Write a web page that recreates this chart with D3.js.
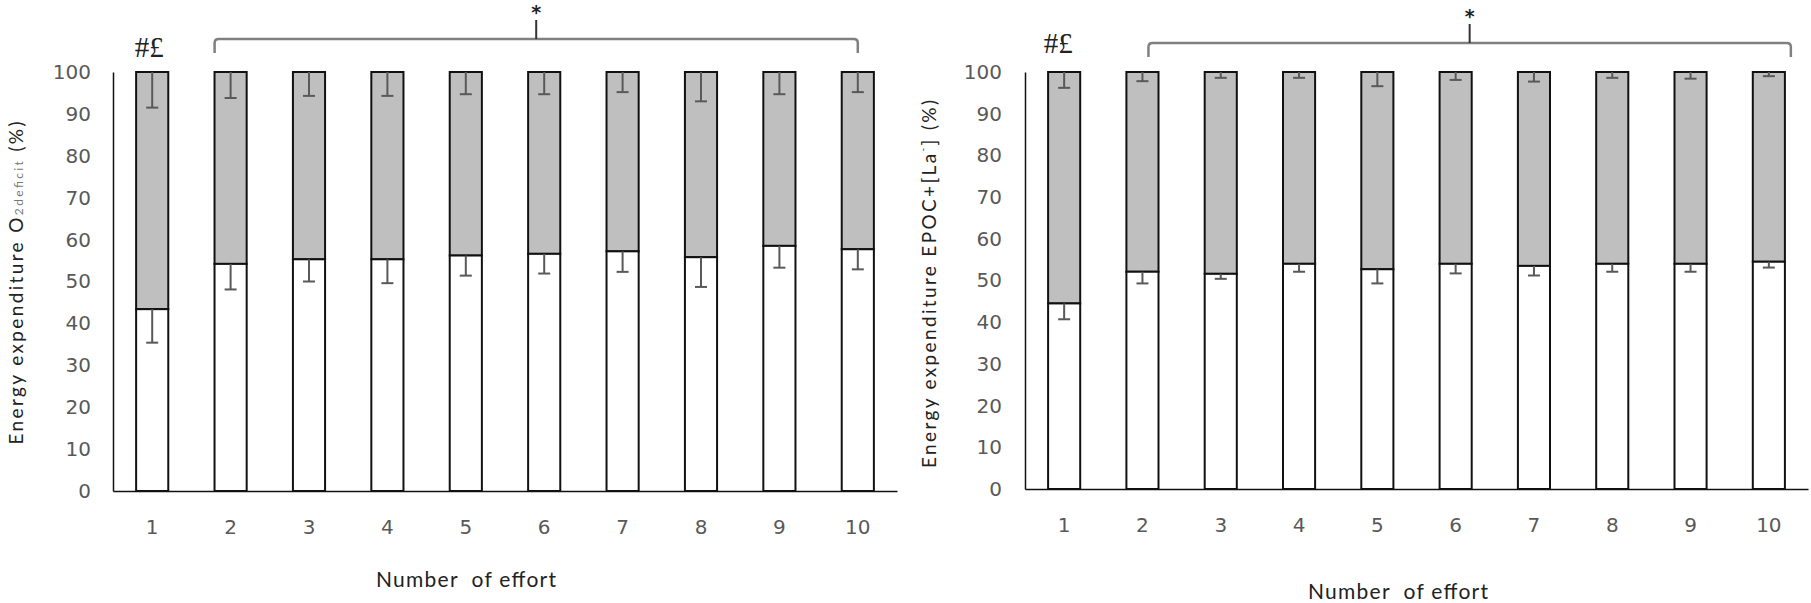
<!DOCTYPE html>
<html>
<head>
<meta charset="utf-8">
<script src="https://cdn.jsdelivr.net/npm/d3@7"></script>
<style>
  html, body { margin: 0; padding: 0; background: #fff; }
  svg { display: block; }
</style>
</head>
<body>
<svg id="chart" width="1811" height="603"></svg>
<script>
// ---- data ----
const efforts = ["1", "2", "3", "4", "5", "6", "7", "8", "9", "10"];
const yTicks = [0, 10, 20, 30, 40, 50, 60, 70, 80, 90, 100];

// Left panel: O2deficit (white = lower part, grey = remainder to 100)
const o2Lower = [43.4, 54.2, 55.3, 55.3, 56.2, 56.6, 57.2, 55.8, 58.5, 57.7];
const o2LowerErr = [8.0, 6.1, 5.3, 5.7, 4.8, 4.7, 4.9, 7.1, 5.2, 4.8];
const o2UpperErr = [8.5, 6.2, 5.7, 5.7, 5.3, 5.3, 4.8, 7.0, 5.3, 4.8];

// Right panel: EPOC+[La-]
const epocLower = [44.5, 52.1, 51.6, 54.0, 52.7, 54.0, 53.5, 54.0, 54.0, 54.5];
const epocLowerErr = [3.8, 2.8, 1.2, 1.9, 3.4, 2.3, 2.3, 1.9, 1.9, 1.4];
const epocUpperErr = [3.8, 2.2, 1.4, 1.4, 3.4, 1.9, 2.3, 1.4, 1.6, 1.0];

const xTitle = "Number  of effort";

const svg = d3.select("#chart");

function panel(opts) {
  const g = svg.append("g");
  const x = d3.scaleBand().domain(efforts).range([opts.x0, opts.x1]).paddingInner(0.59).paddingOuter(0.295);
  const y = d3.scaleLinear().domain([0, 100]).range([opts.y0, opts.y100]);

  const rows = efforts.map((e, i) => ({
    e, lower: opts.lower[i], lowErr: opts.lowerErr[i], upErr: opts.upperErr[i]
  }));

  // grey upper segments
  g.selectAll("rect.up").data(rows).join("rect")
    .attr("x", d => x(d.e)).attr("width", x.bandwidth())
    .attr("y", y(100)).attr("height", d => y(d.lower) - y(100))
    .attr("fill", "#bfbfbf").attr("stroke", "#111").attr("stroke-width", 2);
  // white lower segments
  g.selectAll("rect.low").data(rows).join("rect")
    .attr("x", d => x(d.e)).attr("width", x.bandwidth())
    .attr("y", d => y(d.lower)).attr("height", d => y(0) - y(d.lower))
    .attr("fill", "#fff").attr("stroke", "#111").attr("stroke-width", 2);

  // error bars
  const cap = 6;
  const errs = [];
  rows.forEach(d => {
    errs.push({ e: d.e, from: 100, to: 100 - d.upErr });
    errs.push({ e: d.e, from: d.lower, to: d.lower - d.lowErr });
  });
  const cx = d => x(d.e) + x.bandwidth() / 2;
  g.selectAll("line.err").data(errs).join("line")
    .attr("x1", cx).attr("x2", cx)
    .attr("y1", d => y(d.from)).attr("y2", d => y(d.to))
    .attr("stroke", "#595959").attr("stroke-width", 2);
  g.selectAll("line.cap").data(errs).join("line")
    .attr("x1", d => cx(d) - cap).attr("x2", d => cx(d) + cap)
    .attr("y1", d => y(d.to)).attr("y2", d => y(d.to))
    .attr("stroke", "#595959").attr("stroke-width", 2);

  // axes
  const ya = g.append("g").attr("transform", `translate(${opts.x0},0)`)
    .call(d3.axisLeft(y).tickValues(yTicks).tickSize(0).tickPadding(opts.yPad));
  ya.select(".domain").attr("stroke", "#111").attr("stroke-width", 1.5);
  ya.selectAll("text").attr("font-family", "DejaVu Sans").attr("font-size", 20).attr("fill", "#595959");

  const xa = g.append("g").attr("transform", `translate(0,${opts.y0})`)
    .call(d3.axisBottom(x).tickSize(0).tickPadding(29));
  xa.select(".domain").attr("stroke", "#111").attr("stroke-width", 1.5);
  xa.selectAll("text").attr("font-family", "DejaVu Sans").attr("font-size", 20).attr("fill", "#595959");

  // y title
  const yt = g.append("text")
    .attr("transform", `translate(${opts.ytX},${opts.ytY}) rotate(-90)`)
    .attr("text-anchor", "middle").attr("dominant-baseline", "central")
    .attr("font-family", "Lato").attr("font-size", 19).attr("fill", "#222")
    .attr("textLength", opts.ytLen).attr("lengthAdjust", "spacing");
  opts.yTitle(yt);

  // x title
  g.append("text").attr("x", opts.xtX).attr("y", opts.xtY)
    .attr("text-anchor", "middle")
    .attr("font-family", "Lato").attr("font-size", 21).attr("fill", "#222")
    .attr("xml:space", "preserve")
    .attr("textLength", 180).attr("lengthAdjust", "spacing")
    .text(xTitle);

  // significance markers
  const c1 = x(efforts[0]) + x.bandwidth() / 2;
  g.append("text").attr("x", c1 + opts.hashDx).attr("y", opts.hashY)
    .attr("text-anchor", "middle")
    .attr("font-family", "Liberation Serif").attr("font-size", 29).attr("fill", "#222")
    .text("#£");

  const bx0 = x(efforts[1]) + x.bandwidth() / 2 + opts.brL;
  const bx1 = x(efforts[9]) + x.bandwidth() / 2 + opts.brR;
  const by = opts.brY, hook = 14, r = 4;
  g.append("path")
    .attr("d", `M${bx0},${by + hook} L${bx0},${by + r} Q${bx0},${by} ${bx0 + r},${by} L${bx1 - r},${by} Q${bx1},${by} ${bx1},${by + r} L${bx1},${by + hook}`)
    .attr("fill", "none").attr("stroke", "#808080").attr("stroke-width", 2.5);
  const mid = (bx0 + bx1) / 2;
  g.append("line").attr("x1", mid).attr("x2", mid).attr("y1", by).attr("y2", by - 19)
    .attr("stroke", "#333").attr("stroke-width", 2);
  g.append("text").attr("x", mid).attr("y", by - 20)
    .attr("text-anchor", "middle")
    .attr("font-family", "DejaVu Sans").attr("font-weight", "bold").attr("font-size", 19).attr("fill", "#222")
    .text("*");
}

panel({
  x0: 113, x1: 897, y0: 491, y100: 72, yPad: 22,
  lower: o2Lower, lowerErr: o2LowerErr, upperErr: o2UpperErr,
  ytX: 15, ytY: 283, ytLen: 323,
  yTitle: t => {
    t.append("tspan").text("Energy expenditure O");
    t.append("tspan").attr("font-size", 12).attr("fill", "#777").attr("baseline-shift", "-3").text("2deficit");
    t.append("tspan").text(" (%)");
  },
  xtX: 466, xtY: 587,
  hashDx: -3, hashY: 57,
  brL: -16, brR: 0, brY: 39
});

panel({
  x0: 1025, x1: 1808, y0: 489, y100: 72, yPad: 23,
  lower: epocLower, lowerErr: epocLowerErr, upperErr: epocUpperErr,
  ytX: 928, ytY: 284, ytLen: 368,
  yTitle: t => {
    t.append("tspan").text("Energy expenditure EPOC+[La");
    t.append("tspan").attr("font-size", 10).attr("baseline-shift", "6").text("-");
    t.append("tspan").text("] (%)");
  },
  xtX: 1398, xtY: 599,
  hashDx: -6, hashY: 53,
  brL: 6, brR: 22, brY: 43
});
</script>
</body>
</html>
